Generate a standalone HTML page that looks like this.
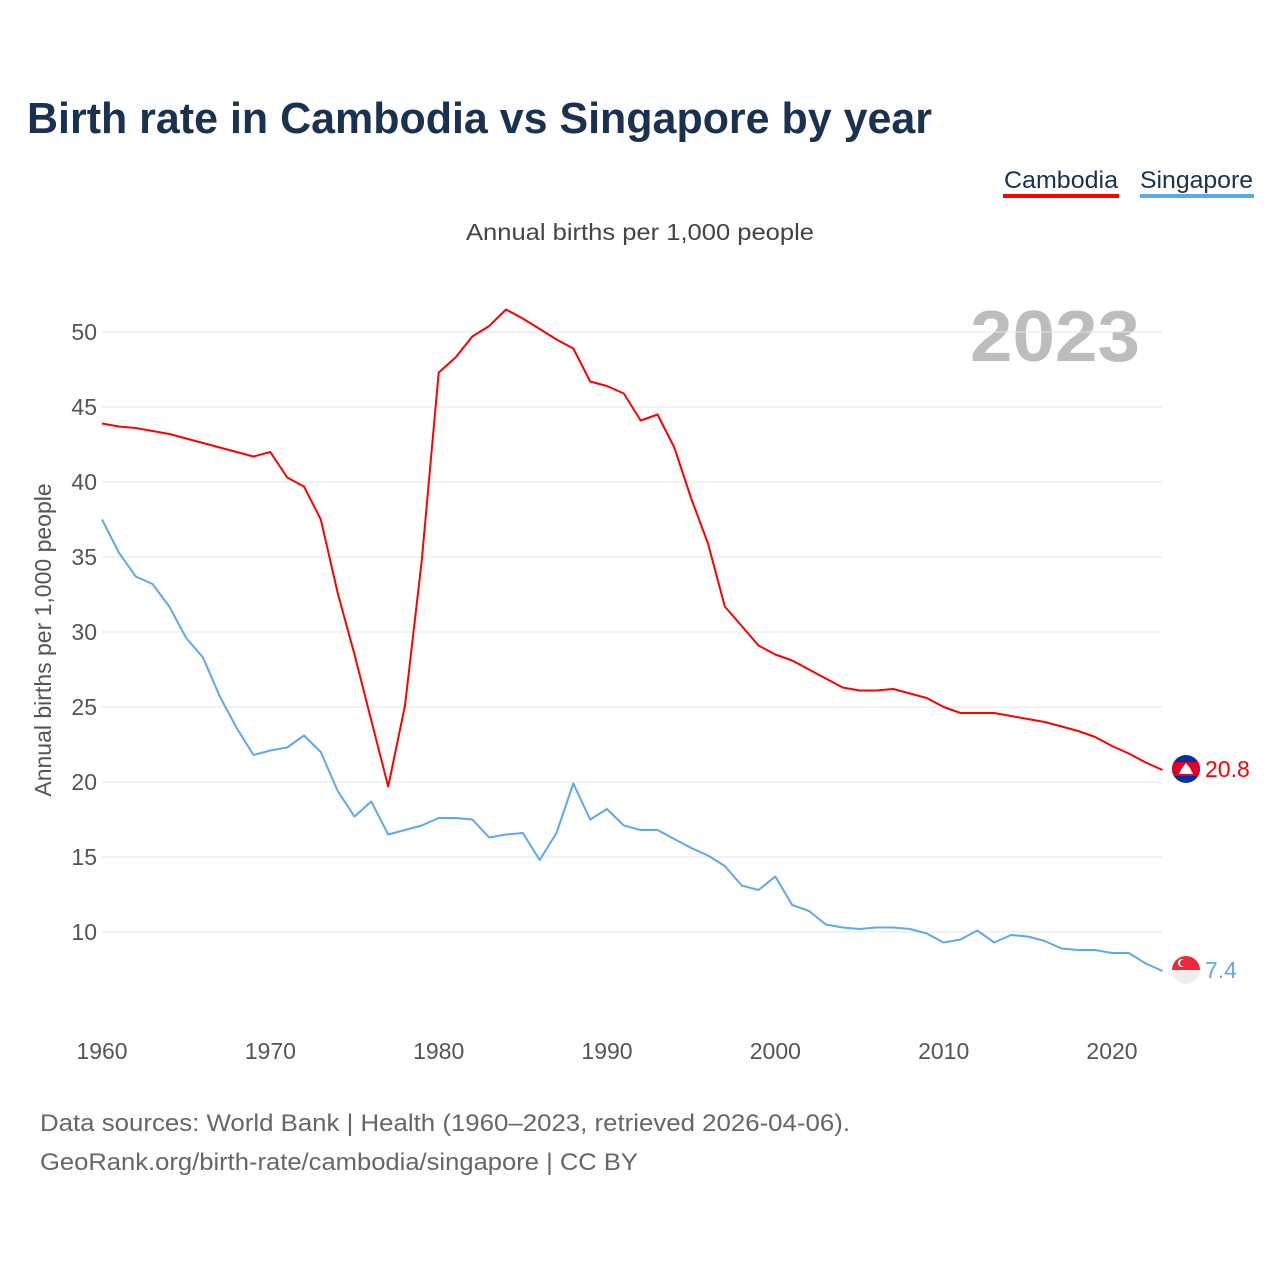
<!DOCTYPE html>
<html><head><meta charset="utf-8">
<style>
body{margin:0;background:#fff;font-family:"Liberation Sans",sans-serif;}
#wrap{position:relative;width:1280px;height:1280px;overflow:hidden;}
</style></head>
<body>
<div id="wrap">
<svg id="chart" width="1280" height="1280" xmlns="http://www.w3.org/2000/svg">
<text x="27" y="133" font-size="44" font-weight="bold" fill="#1a3150" textLength="905" lengthAdjust="spacingAndGlyphs">Birth rate in Cambodia vs Singapore by year</text>
<g>
<text x="1004" y="188" font-size="24" fill="#1a3150" textLength="114" lengthAdjust="spacingAndGlyphs">Cambodia</text>
<rect x="1003" y="194" width="116" height="4" fill="#ff0000"/>
</g>
<g>
<text x="1140" y="188" font-size="24" fill="#1a3150" textLength="113" lengthAdjust="spacingAndGlyphs">Singapore</text>
<rect x="1140" y="194" width="114" height="4" fill="#5ea8ec"/>
</g>
<text x="466" y="240" font-size="23" fill="#444" textLength="348" lengthAdjust="spacingAndGlyphs">Annual births per 1,000 people</text>
<text x="970" y="361" font-size="72" font-weight="bold" fill="#bdbdbd" textLength="170" lengthAdjust="spacingAndGlyphs">2023</text>
<text transform="translate(51,640) rotate(-90)" font-size="23" fill="#555" text-anchor="middle">Annual births per 1,000 people</text>
<g id="grid"></g><g id="yticks"></g><g id="xticks"></g><g id="lines"></g>
<g>
<clipPath id="c1"><circle cx="1186" cy="769" r="14"/></clipPath>
<g clip-path="url(#c1)"><rect x="1172" y="755" width="28" height="28" fill="#032ea1"/><rect x="1172" y="762" width="28" height="14" fill="#e00025"/><path d="M1179 774 L1193 774 L1190 768 L1186 763 L1182 768 Z" fill="#fff"/></g>
</g>
<g>
<clipPath id="c2"><circle cx="1186" cy="970" r="14"/></clipPath>
<g clip-path="url(#c2)"><rect x="1172" y="956" width="28" height="28" fill="#eee"/><rect x="1172" y="956" width="28" height="14" fill="#ed2939"/><circle cx="1182" cy="963" r="4" fill="#fff"/><circle cx="1183.5" cy="963" r="3.5" fill="#ed2939"/></g>
</g>
<text x="1205" y="777" font-size="23" fill="#ff0000">20.8</text>
<text x="1205" y="978" font-size="23" fill="#5ea8ec">7.4</text>
<text x="40" y="1131" font-size="24" fill="#666" textLength="810" lengthAdjust="spacingAndGlyphs">Data sources: World Bank | Health (1960–2023, retrieved 2026-04-06).</text>
<text x="40" y="1170" font-size="24" fill="#666" textLength="598" lengthAdjust="spacingAndGlyphs">GeoRank.org/birth-rate/cambodia/singapore | CC BY</text>
</svg>
</div>
<script>
const years = [];
for (let y = 1960; y <= 2023; y++) years.push(y);
const cambodia = [43.9,43.7,43.6,43.4,43.2,42.9,42.6,42.3,42.0,41.7,42.0,40.3,39.7,37.5,32.6,28.5,24.1,19.7,25.1,34.8,47.3,48.3,49.7,50.4,51.5,50.9,50.2,49.5,48.9,46.7,46.4,45.9,44.1,44.5,42.3,38.9,35.9,31.7,30.4,29.1,28.5,28.1,27.5,26.9,26.3,26.1,26.1,26.2,25.9,25.6,25.0,24.6,24.6,24.6,24.4,24.2,24.0,23.7,23.4,23.0,22.4,21.9,21.3,20.8];
const singapore = [37.5,35.3,33.7,33.2,31.7,29.6,28.3,25.7,23.6,21.8,22.1,22.3,23.1,22.0,19.4,17.7,18.7,16.5,16.8,17.1,17.6,17.6,17.5,16.3,16.5,16.6,14.8,16.6,19.9,17.5,18.2,17.1,16.8,16.8,16.2,15.6,15.1,14.4,13.1,12.8,13.7,11.8,11.4,10.5,10.3,10.2,10.3,10.3,10.2,9.9,9.3,9.5,10.1,9.3,9.8,9.7,9.4,8.9,8.8,8.8,8.6,8.6,7.9,7.4];
const yTicks = [10,15,20,25,30,35,40,45,50];
const xTicks = [1960,1970,1980,1990,2000,2010,2020];
const NS = "http://www.w3.org/2000/svg";
function xs(y){ return 102 + (y - 1960) * (1060.5 / 63); }
function ys(v){ return 332 + (50 - v) * 15; }
function mk(tag, attrs, parent){ const e = document.createElementNS(NS, tag); for (const k in attrs) e.setAttribute(k, attrs[k]); parent.appendChild(e); return e; }
const grid = document.getElementById('grid'), yt = document.getElementById('yticks'), xt = document.getElementById('xticks'), lines = document.getElementById('lines');
yTicks.forEach(v => {
  const l = mk('line', {x1:102, x2:1162, y1:ys(v), y2:ys(v), stroke:'#e6e6e6', 'stroke-width':1}, grid);
  
  
  const t = mk('text', {x:97, y:ys(v) + 8, 'font-size':23, fill:'#555', 'text-anchor':'end'}, yt);
  t.textContent = v;
  
  
});
xTicks.forEach(v => {
  const t = mk('text', {x:xs(v), y:1059, 'font-size':23, fill:'#555', 'text-anchor':'middle'}, xt);
  t.textContent = v;
  
  
});
function drawLine(vals, color, name){
  const d = vals.map((v, i) => (i ? 'L' : 'M') + xs(years[i]).toFixed(1) + ' ' + ys(v).toFixed(1)).join(' ');
  const p = mk('path', {d:d, fill:'none', stroke:color, 'stroke-width':2, 'stroke-linejoin':'round'}, lines);
  
  
}
drawLine(singapore, '#5ea8ec', 'singapore-line');
drawLine(cambodia, '#ff0000', 'cambodia-line');
</script>
</body></html>
